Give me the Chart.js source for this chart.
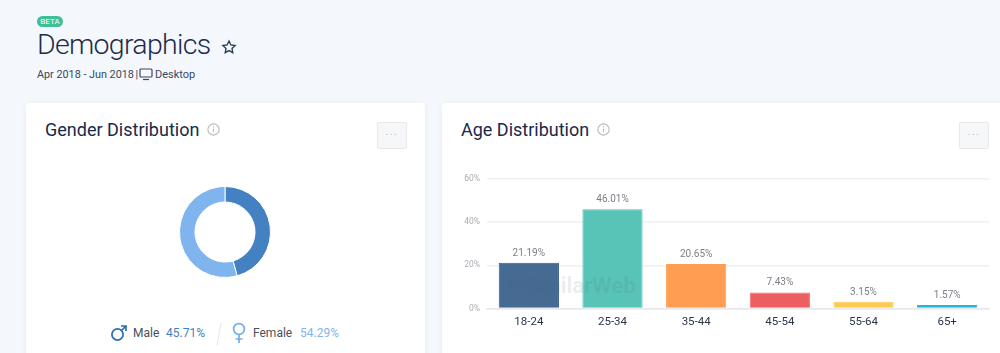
<!DOCTYPE html>
<html>
<head>
<meta charset="utf-8">
<script src="https://cdn.jsdelivr.net/npm/chart.js@4"></script>
<style>
  html, body { margin: 0; padding: 0; }
  body { width: 1000px; height: 353px; overflow: hidden; position: relative; background: #f4f8fd; font-family: Roboto, sans-serif; color: #1c2b4a; }
  .abs { position: absolute; white-space: nowrap; }
  .card { position: absolute; top: 103px; height: 280px; background: #fff; border-radius: 4px; box-shadow: 0 1px 5px rgba(60, 80, 120, .08); }
  .card-title { font-size: 18px; line-height: 22px; top: 119px; color: #18294a; }
  .dots { position: absolute; top: 122px; width: 28px; height: 25px; background: #f6f7f9; border: 1px solid #e6e8ec; border-radius: 2px; color: #b5b9c2; font-size: 10px; line-height: 18px; letter-spacing: 1.5px; text-align: center; }
  canvas { position: absolute; }
</style>
</head>
<body>
<div class="abs" style="left:37px;top:16px;width:26px;height:11px;background:#3dbf98;border-radius:6px;color:#fff;font-size:8px;line-height:11px;text-align:center;">BETA</div>
<div class="abs" style="left:37px;top:27px;font-size:28.5px;line-height:36px;font-weight:300;letter-spacing:-.7px;color:#1c2b4a;">Demographics</div>
<svg class="abs" style="left:221px;top:39px;" width="16" height="16" viewBox="0 0 24 24" fill="none" stroke="#2b3a55" stroke-width="2"><path d="M12 3l2.8 5.9 6.4.8-4.7 4.4 1.2 6.4L12 17.4l-5.7 3.1 1.2-6.4L2.8 9.7l6.4-.8z"/></svg>
<div class="abs" style="left:37px;top:68px;font-size:10.8px;line-height:14px;color:#3a4660;">Apr 2018 - Jun 2018</div>
<div class="abs" style="left:135.5px;top:68px;font-size:10.8px;line-height:14px;color:#3a4660;">|</div>
<svg class="abs" style="left:139px;top:68px;" width="14" height="13" viewBox="0 0 14 13" fill="none" stroke="#3a4660" stroke-width="1.2"><rect x="1" y="1" width="12" height="8" rx="1"/><path d="M4 11.5h6"/></svg>
<div class="abs" style="left:155px;top:68px;font-size:11px;line-height:14px;color:#3a4660;">Desktop</div>

<div class="card" style="left:26px;width:399px;"></div>
<div class="card" style="left:442px;width:600px;"></div>

<div class="abs card-title" style="left:45px;">Gender Distribution</div>
<svg class="abs" style="left:207px;top:123px;" width="13" height="13" viewBox="0 0 12 12" fill="none" stroke="#b4b8bf"><circle cx="6" cy="6" r="5.2"/><path d="M6 5.2v3.4M6 3v1.1"/></svg>
<div class="dots" style="left:377px;">...</div>

<div class="abs card-title" style="left:461px;">Age Distribution</div>
<svg class="abs" style="left:597px;top:123px;" width="13" height="13" viewBox="0 0 12 12" fill="none" stroke="#b4b8bf"><circle cx="6" cy="6" r="5.2"/><path d="M6 5.2v3.4M6 3v1.1"/></svg>
<div class="dots" style="left:959px;">...</div>

<canvas id="genderChart" style="left:179px;top:186px;width:92px;height:92px;"></canvas>
<canvas id="ageChart" style="left:447px;top:166px;width:553px;height:175px;"></canvas>

<svg class="abs" style="left:503px;top:276px;" width="18" height="18" viewBox="0 0 18 18" fill="none" stroke="rgba(70,90,120,.12)" stroke-width="3"><path d="M3 3l6 6-6 6M10 3l6 6-6 6"/></svg>
<div class="abs" style="left:522px;top:272px;font-size:22.5px;line-height:26px;font-weight:700;color:rgba(70,90,120,.11);letter-spacing:-.2px;">SimilarWeb</div>

<svg class="abs" style="left:110px;top:324px;" width="18" height="18" viewBox="0 0 18 18" fill="none" stroke="#2a6fb8" stroke-width="1.7"><circle cx="7.5" cy="10.5" r="5.6"/><path d="M11.5 6.5L16 2M11 2h5v5"/></svg>
<div class="abs" style="left:133px;top:325px;font-size:12px;line-height:16px;color:#4a4f5a;">Male</div>
<div class="abs" style="left:166px;top:325px;font-size:12px;line-height:16px;color:#3f7fc4;">45.71%</div>
<svg class="abs" style="left:216px;top:322px;" width="6" height="24" viewBox="0 0 6 24" stroke="#e4e6ea"><path d="M5 1L1 23"/></svg>
<svg class="abs" style="left:231px;top:322px;" width="16" height="22" viewBox="0 0 16 22" fill="none" stroke="#74aeee" stroke-width="1.7"><circle cx="8" cy="7" r="5.4"/><path d="M8 12.5V21M4.5 17h7"/></svg>
<div class="abs" style="left:253px;top:325px;font-size:12px;line-height:16px;color:#4a4f5a;">Female</div>
<div class="abs" style="left:300px;top:325px;font-size:12px;line-height:16px;color:#7fb4ef;">54.29%</div>

<script>
const genderLabels = ["Male", "Female"];
const genderValues = [45.71, 54.29];
const genderColors = ["#4481c3", "#7fb4ef"];

const ageLabels = ["18-24", "25-34", "35-44", "45-54", "55-64", "65+"];
const ageValues = [21.19, 46.01, 20.65, 7.43, 3.15, 1.57];
const ageColors = ["#456b92", "#58c4b8", "#ff9e53", "#ec5e60", "#fdcb52", "#1fb8d6"];
const ageBorders = ["#2f5b8d", "#4cc2b4", "#ff9e53", "#f26a70", "#fdcb52", "#1fb8d6"];

new Chart("genderChart", {
  type: "doughnut",
  data: {
    labels: genderLabels,
    datasets: [{
      data: genderValues,
      backgroundColor: genderColors,
      borderColor: "#fff",
      borderWidth: 1
    }]
  },
  options: {
    responsive: false,
    animation: false,
    cutout: "66%",
    plugins: { legend: { display: false }, tooltip: { enabled: false } }
  }
});

// percent labels above the bars
const barValueLabels = {
  id: "barValueLabels",
  afterDatasetsDraw(chart) {
    const ctx = chart.ctx;
    ctx.save();
    ctx.font = "10px Roboto";
    ctx.fillStyle = "#7b7f86";
    ctx.textAlign = "center";
    ctx.textBaseline = "middle";
    chart.getDatasetMeta(0).data.forEach((bar, i) => {
      ctx.fillText(ageValues[i].toFixed(2) + "%", bar.x, bar.y - 9.5);
    });
    ctx.restore();
  }
};

new Chart("ageChart", {
  type: "bar",
  data: {
    labels: ageLabels,
    datasets: [{
      data: ageValues,
      backgroundColor: ageColors,
      borderColor: ageBorders,
      borderWidth: 1,
      barPercentage: 0.72,
      categoryPercentage: 1
    }]
  },
  options: {
    responsive: false,
    animation: false,
    layout: { padding: { top: 13, right: 11, bottom: 0, left: 0 } },
    plugins: { legend: { display: false }, tooltip: { enabled: false } },
    scales: {
      x: {
        grid: { display: false, drawTicks: false },
        border: { color: "#e6e8ec", width: 1.5 },
        ticks: { color: "#2b3648", font: { family: "Roboto", size: 11.5 }, padding: 7, maxRotation: 0 },
        afterFit(scale) { scale.height = 32.5; }
      },
      y: {
        min: 0,
        max: 60,
        grid: { color: "#eef0f3", lineWidth: 1.5, drawTicks: false },
        border: { display: false },
        ticks: {
          stepSize: 20,
          color: "#a9acb2",
          font: { family: "Roboto", size: 8.5 },
          padding: 7,
          callback: v => v + "%"
        },
        afterFit(scale) { scale.width = 40; }
      }
    }
  },
  plugins: [barValueLabels]
});
</script>
</body>
</html>
